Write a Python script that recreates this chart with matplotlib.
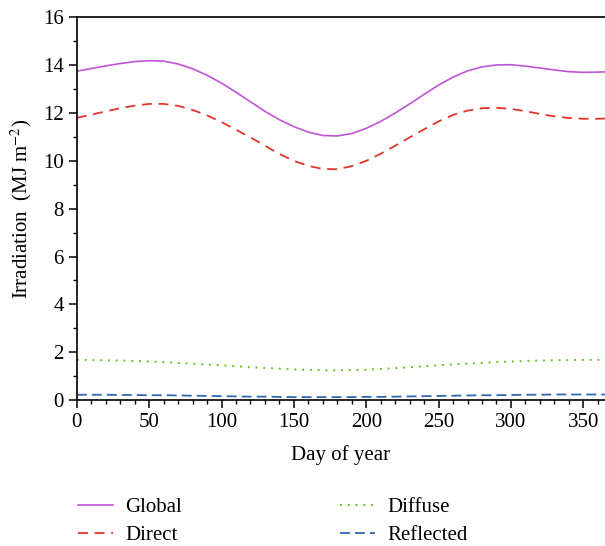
import matplotlib.pyplot as plt
import numpy as np

days = [0, 10, 20, 30, 40, 50, 60, 70, 80, 90, 100, 110, 120, 130, 140, 150,
        160, 170, 180, 190, 200, 210, 220, 230, 240, 250, 260, 270, 280, 290,
        300, 310, 320, 330, 340, 350, 360, 365]

global_irr = [13.75, 13.86, 13.97, 14.07, 14.15, 14.19, 14.17, 14.05, 13.85,
              13.58, 13.25, 12.87, 12.47, 12.07, 11.72, 11.43, 11.20, 11.06,
              11.04, 11.14, 11.36, 11.65, 12.00, 12.38, 12.78, 13.17, 13.50,
              13.76, 13.93, 14.01, 14.02, 13.96, 13.88, 13.80, 13.73, 13.70,
              13.71, 13.72]
direct_irr = [11.80, 11.93, 12.07, 12.20, 12.31, 12.38, 12.38, 12.30, 12.13,
              11.90, 11.62, 11.30, 10.98, 10.63, 10.29, 10.00, 9.79, 9.66,
              9.65, 9.78, 10.00, 10.30, 10.63, 10.98, 11.32, 11.65, 11.92,
              12.10, 12.20, 12.22, 12.17, 12.08, 11.96, 11.86, 11.79, 11.76,
              11.76, 11.77]
diffuse_irr = [1.68, 1.67, 1.66, 1.65, 1.63, 1.61, 1.58, 1.55, 1.52, 1.48,
               1.45, 1.41, 1.37, 1.34, 1.31, 1.28, 1.26, 1.24, 1.24, 1.25,
               1.27, 1.30, 1.33, 1.37, 1.41, 1.45, 1.49, 1.52, 1.55, 1.58,
               1.61, 1.63, 1.65, 1.66, 1.67, 1.68, 1.68, 1.68]
reflected_irr = [0.22, 0.22, 0.22, 0.21, 0.21, 0.20, 0.20, 0.19, 0.18, 0.17,
                 0.16, 0.15, 0.14, 0.14, 0.13, 0.12, 0.12, 0.12, 0.12, 0.12,
                 0.13, 0.13, 0.14, 0.15, 0.16, 0.17, 0.18, 0.19, 0.20, 0.20,
                 0.21, 0.22, 0.22, 0.23, 0.23, 0.23, 0.23, 0.23]

plt.rcParams['font.family'] = 'Liberation Serif'
plt.rcParams['font.size'] = 15
plt.rcParams['mathtext.fontset'] = 'stix'

fig = plt.figure(figsize=(6.05, 5.46), dpi=100)
ax = fig.add_axes([0.127, 0.2674, 0.873, 0.7008])

ax.plot(days, global_irr, color='#bf55d2', lw=1.2, label='Global')
ax.plot(days, direct_irr, color='#e3342b', lw=1.3, ls=(0, (5.5, 3.7)), label='Direct')
ax.plot(days, diffuse_irr, color='#6cbf1f', lw=1.4, ls=(0, (1, 3)), label='Diffuse')
ax.plot(days, reflected_irr, color='#2f68b5', lw=1.3, ls=(0, (5.5, 2.8)), label='Reflected')

ax.set_xlim(0, 365)
ax.set_ylim(0, 16)
ax.set_xticks(np.arange(0, 351, 50))
ax.set_xticks(np.arange(0, 366, 10), minor=True)
ax.set_yticks(np.arange(0, 17, 2))
ax.set_yticks(np.arange(0, 17, 1), minor=True)
ax.tick_params(which='major', direction='out', length=6, width=1.1, labelsize=15)
ax.tick_params(which='minor', direction='out', length=3, width=1.0)
ax.spines['right'].set_visible(False)
for s in ['left', 'bottom', 'top']:
    ax.spines[s].set_linewidth(1.2)

ax.set_xlabel('Day of year', fontsize=15, labelpad=9)
ax.set_ylabel('Irradiation  (MJ m$^{-2}$)', fontsize=15, labelpad=6)

fig.legend(loc='upper left', bbox_to_anchor=(0.129, 0.089), ncol=2,
           frameon=False, handlelength=1.7, handletextpad=0.55,
           columnspacing=7.6, labelspacing=0.4, borderpad=0,
           borderaxespad=0, fontsize=15)

fig.savefig('out.png', dpi=100)
